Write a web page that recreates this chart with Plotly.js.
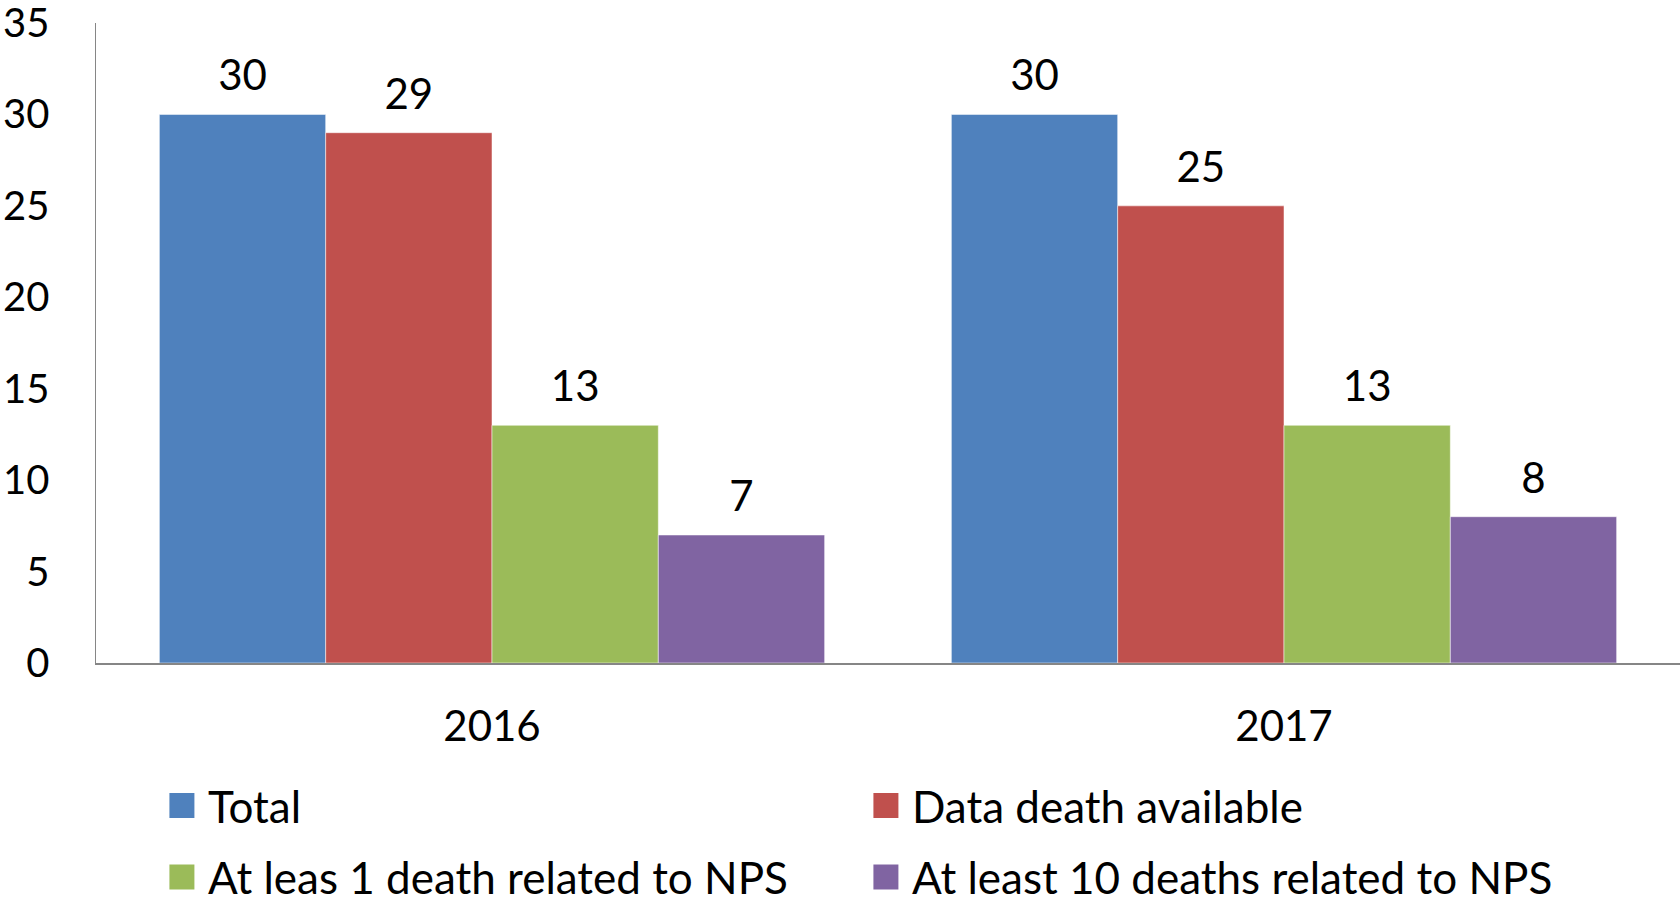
<!DOCTYPE html>
<html>
<head>
<meta charset="utf-8">
<script src="https://cdn.plot.ly/plotly-3.0.1.min.js"></script>
<style>html,body{margin:0;padding:0;background:#fff;}#chart{width:1680px;height:900px;}</style>
</head>
<body>
<div id="chart"></div>
<script>
const years = ["2016", "2017"];
const seriesNames = ["Total", "Data death available", "At leas 1 death related to NPS", "At least 10 deaths related to NPS"];
const totalVals = [30, 30];
const dataDeathVals = [29, 25];
const atLeast1Vals = [13, 13];
const atLeast10Vals = [7, 8];
const colors = ["#4F81BD", "#C0504D", "#9BBB59", "#8064A2"];
const yTicks = [0, 5, 10, 15, 20, 25, 30, 35];

const FONT = "Lato, 'Open Sans', sans-serif";
const valuesList = [totalVals, dataDeathVals, atLeast1Vals, atLeast10Vals];
const legendIds = ["legend", "legend", "legend2", "legend2"];

const traces = valuesList.map((vals, i) => ({
  type: "bar",
  name: seriesNames[i],
  x: years,
  y: vals,
  marker: {color: colors[i], line: {color: "rgba(255,255,255,0.5)", width: 1}},
  text: vals.map(v => "<span style='font-size:42px'>" + String(v) + "</span><br><span style='font-size:14px'> </span>"),
  texttemplate: "%{text}",
  textposition: "outside",
  cliponaxis: false,
  constraintext: "none",
  textfont: {family: FONT, size: 14, color: "#000"},
  hoverinfo: "none",
  legend: legendIds[i]
}));

const legendCommon = {
  orientation: "h",
  xanchor: "left",
  yanchor: "middle",
  x: 0.0454,
  entrywidth: 659,
  entrywidthmode: "pixels",
  font: {family: FONT, size: 44, color: "#000"},
  bgcolor: "rgba(0,0,0,0)",
  itemclick: false
};

const layout = {
  width: 1680,
  height: 900,
  margin: {l: 96, r: 0, t: 23, b: 237, autoexpand: false},
  paper_bgcolor: "#fff",
  plot_bgcolor: "#fff",
  barmode: "group",
  bargap: 0.16,
  bargroupgap: 0,
  showlegend: true,
  font: {family: FONT, size: 42, color: "#000"},
  xaxis: {
    type: "category",
    range: [-0.5, 1.5],
    automargin: false,
    showline: true,
    linecolor: "#868686",
    linewidth: 1.5,
    ticks: "",
    showgrid: false,
    zeroline: false,
    tickfont: {family: FONT, size: 42, color: "#000"},
    ticklabelstandoff: 26
  },
  yaxis: {
    range: [0, 35],
    automargin: false,
    tickvals: yTicks,
    ticktext: yTicks.map(String),
    showline: true,
    linecolor: "#868686",
    linewidth: 1.5,
    ticks: "",
    showgrid: false,
    zeroline: false,
    ticklabeloverflow: "allow",
    tickfont: {family: FONT, size: 40, color: "#000"},
    ticklabelstandoff: 37
  },
  legend: Object.assign({}, legendCommon, {y: -0.2234}),
  legend2: Object.assign({}, legendCommon, {y: -0.335})
};

Plotly.newPlot("chart", traces, layout, {staticPlot: true, displayModeBar: false}).then(() => {
  document.querySelectorAll(".legendpoints path").forEach(p => {
    p.setAttribute("d", "M6.5,12.5H-18.5V-12.5H6.5Z");
    p.style.strokeWidth = "0";
  });
});
</script>
</body>
</html>
